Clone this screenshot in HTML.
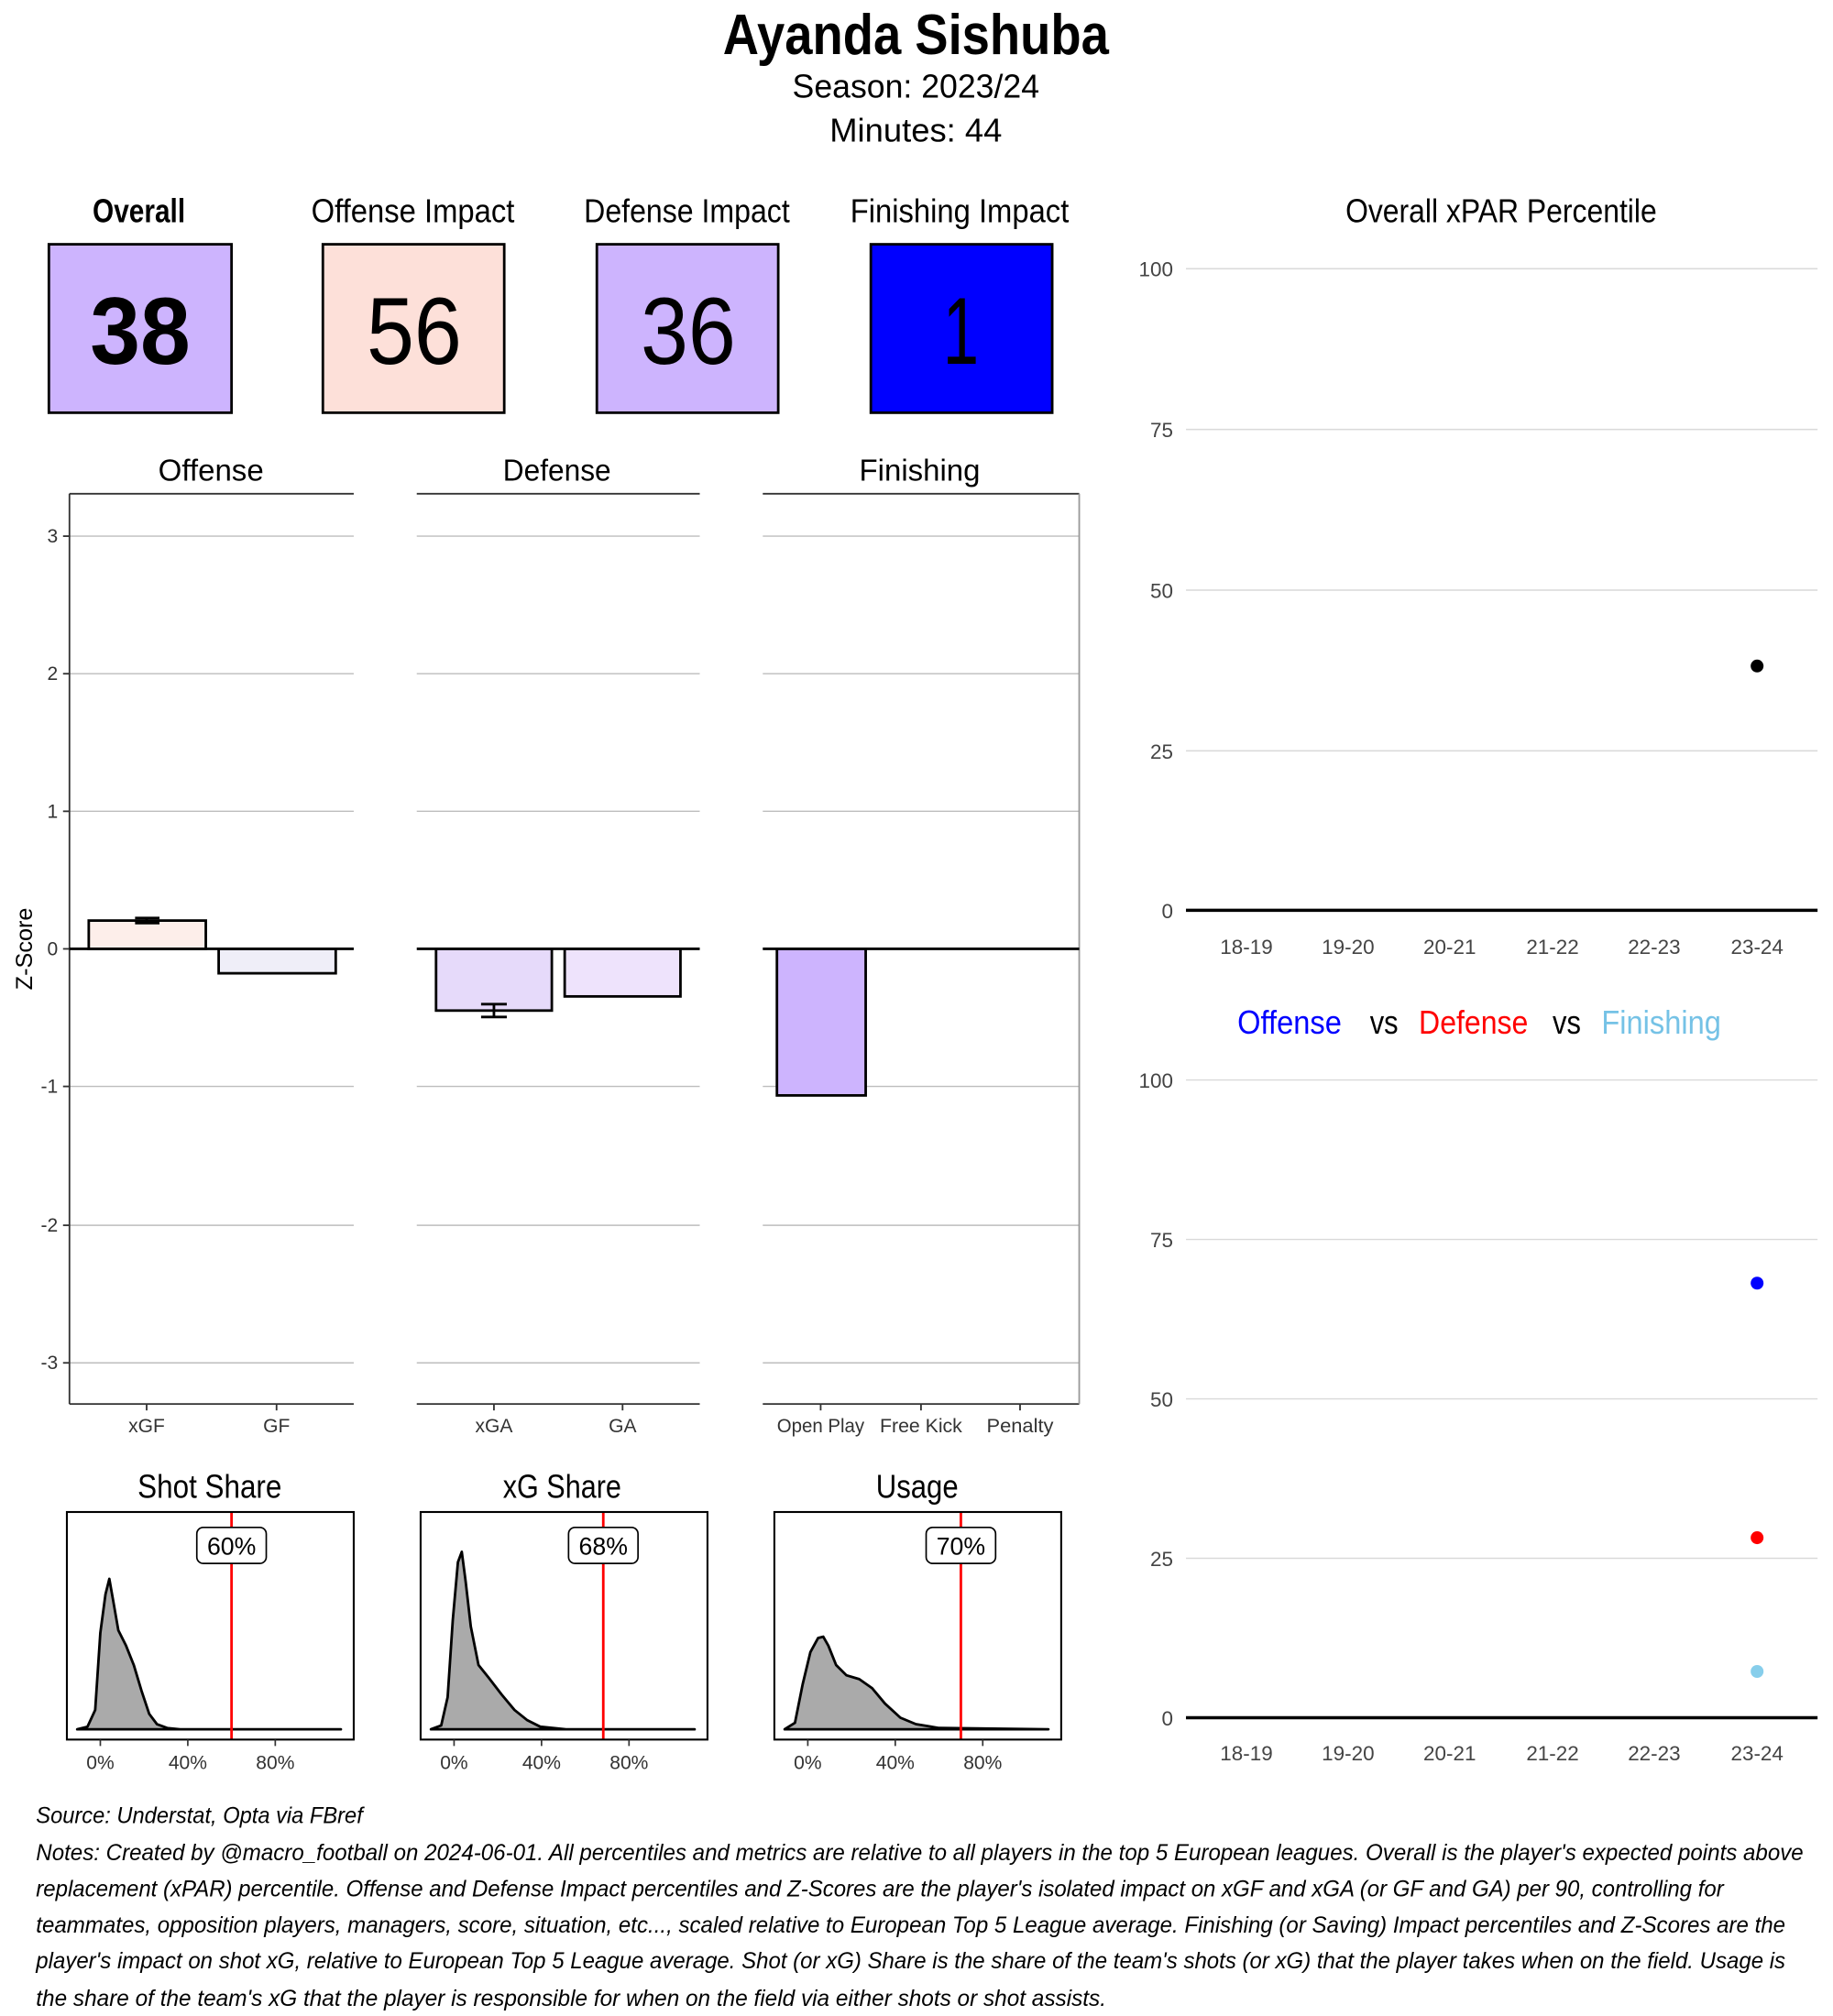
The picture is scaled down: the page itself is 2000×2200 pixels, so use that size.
<!DOCTYPE html>
<html><head><meta charset="utf-8"><style>html,body{margin:0;padding:0;background:#fff}svg{display:block}</style></head>
<body>
<svg width="2000" height="2200" viewBox="0 0 1425 1568" preserveAspectRatio="none" xmlns="http://www.w3.org/2000/svg" font-family="Liberation Sans, sans-serif">
<rect width="1425" height="1568" fill="#fff"/>
<text x="712" y="42" text-anchor="middle" font-size="44" font-weight="bold" textLength="300" lengthAdjust="spacingAndGlyphs">Ayanda Sishuba</text>
<text x="712" y="76" text-anchor="middle" font-size="26" textLength="192" lengthAdjust="spacingAndGlyphs">Season:  2023/24</text>
<text x="712" y="110" text-anchor="middle" font-size="26" textLength="134" lengthAdjust="spacingAndGlyphs">Minutes:  44</text>
<g font-size="26" text-anchor="middle">
<text x="108" y="173" font-weight="bold" textLength="72" lengthAdjust="spacingAndGlyphs">Overall</text>
<text x="321" y="173" textLength="158" lengthAdjust="spacingAndGlyphs">Offense Impact</text>
<text x="534" y="173" textLength="160" lengthAdjust="spacingAndGlyphs">Defense Impact</text>
<text x="746" y="173" textLength="170" lengthAdjust="spacingAndGlyphs">Finishing Impact</text>
</g>
<g stroke="#000" stroke-width="2">
<rect x="38" y="190" width="142" height="131" fill="#cdb4fe"/>
<rect x="251" y="190" width="141" height="131" fill="#fde0d9"/>
<rect x="464" y="190" width="141" height="131" fill="#cdb4fe"/>
<rect x="677" y="190" width="141" height="131" fill="#0000ff"/>
</g>
<g font-size="74" text-anchor="middle">
<text x="109" y="283" font-weight="bold" textLength="78" lengthAdjust="spacingAndGlyphs">38</text>
<text x="322" y="283" textLength="74" lengthAdjust="spacingAndGlyphs">56</text>
<text x="535" y="283" textLength="74" lengthAdjust="spacingAndGlyphs">36</text>
<text x="747" y="283" textLength="28" lengthAdjust="spacingAndGlyphs">1</text>
</g>
<text x="1167" y="173" text-anchor="middle" font-size="26" textLength="242" lengthAdjust="spacingAndGlyphs">Overall xPAR Percentile</text>
<g stroke="#d9d9d9" stroke-width="1">
<line x1="922" x2="1413" y1="209" y2="209"/><line x1="922" x2="1413" y1="334" y2="334"/>
<line x1="922" x2="1413" y1="459" y2="459"/><line x1="922" x2="1413" y1="584" y2="584"/>
<line x1="922" x2="1413" y1="840" y2="840"/><line x1="922" x2="1413" y1="964" y2="964"/>
<line x1="922" x2="1413" y1="1088" y2="1088"/><line x1="922" x2="1413" y1="1212" y2="1212"/>
</g>
<line x1="922" x2="1413" y1="708" y2="708" stroke="#000" stroke-width="2.5"/>
<line x1="922" x2="1413" y1="1336" y2="1336" stroke="#000" stroke-width="2.5"/>
<g font-size="16" fill="#444" text-anchor="end">
<text x="912" y="215">100</text><text x="912" y="340">75</text><text x="912" y="465">50</text><text x="912" y="590">25</text><text x="912" y="714">0</text>
<text x="912" y="846">100</text><text x="912" y="970">75</text><text x="912" y="1094">50</text><text x="912" y="1218">25</text><text x="912" y="1342">0</text>
</g>
<g font-size="16" fill="#444" text-anchor="middle">
<text x="969" y="742">18-19</text><text x="1048" y="742">19-20</text><text x="1127" y="742">20-21</text><text x="1207" y="742">21-22</text><text x="1286" y="742">22-23</text><text x="1366" y="742">23-24</text>
<text x="969" y="1369">18-19</text><text x="1048" y="1369">19-20</text><text x="1127" y="1369">20-21</text><text x="1207" y="1369">21-22</text><text x="1286" y="1369">22-23</text><text x="1366" y="1369">23-24</text>
</g>
<circle cx="1366" cy="518" r="5" fill="#000"/>
<g font-size="26">
<text x="962" y="804" fill="#0000ff" textLength="81" lengthAdjust="spacingAndGlyphs">Offense</text>
<text x="1065" y="804" fill="#000" textLength="22" lengthAdjust="spacingAndGlyphs">vs</text>
<text x="1103" y="804" fill="#ff0000" textLength="85" lengthAdjust="spacingAndGlyphs">Defense</text>
<text x="1207" y="804" fill="#000" textLength="22" lengthAdjust="spacingAndGlyphs">vs</text>
<text x="1245" y="804" fill="#75c2e6" textLength="93" lengthAdjust="spacingAndGlyphs">Finishing</text>
</g>
<circle cx="1366" cy="998" r="5" fill="#0000ff"/>
<circle cx="1366" cy="1196" r="5" fill="#ff0000"/>
<circle cx="1366" cy="1300" r="5" fill="#87ceeb"/>
<g font-size="24" text-anchor="middle">
<text x="164" y="374" textLength="82" lengthAdjust="spacingAndGlyphs">Offense</text>
<text x="433" y="374" textLength="84" lengthAdjust="spacingAndGlyphs">Defense</text>
<text x="715" y="374" textLength="94" lengthAdjust="spacingAndGlyphs">Finishing</text>
</g>
<g stroke="#bdbdbd" stroke-width="1">
<line x1="54" x2="275" y1="417" y2="417"/><line x1="54" x2="275" y1="524" y2="524"/><line x1="54" x2="275" y1="631" y2="631"/><line x1="54" x2="275" y1="845" y2="845"/><line x1="54" x2="275" y1="953" y2="953"/><line x1="54" x2="275" y1="1060" y2="1060"/>
<line x1="324" x2="544" y1="417" y2="417"/><line x1="324" x2="544" y1="524" y2="524"/><line x1="324" x2="544" y1="631" y2="631"/><line x1="324" x2="544" y1="845" y2="845"/><line x1="324" x2="544" y1="953" y2="953"/><line x1="324" x2="544" y1="1060" y2="1060"/>
<line x1="593" x2="839" y1="417" y2="417"/><line x1="593" x2="839" y1="524" y2="524"/><line x1="593" x2="839" y1="631" y2="631"/><line x1="593" x2="839" y1="845" y2="845"/><line x1="593" x2="839" y1="953" y2="953"/><line x1="593" x2="839" y1="1060" y2="1060"/>
</g>
<g stroke="#333" stroke-width="1.3" fill="none">
<line x1="54" x2="275" y1="384" y2="384"/><line x1="324" x2="544" y1="384" y2="384"/><line x1="593" x2="839" y1="384" y2="384"/>
<line x1="54" x2="275" y1="1092" y2="1092"/><line x1="324" x2="544" y1="1092" y2="1092"/><line x1="593" x2="839" y1="1092" y2="1092"/>
<line x1="54" x2="54" y1="384" y2="1092"/><line x1="839" x2="839" y1="384" y2="1092" stroke="#999"/>
<line x1="49" x2="54" y1="417" y2="417"/><line x1="49" x2="54" y1="524" y2="524"/><line x1="49" x2="54" y1="631" y2="631"/><line x1="49" x2="54" y1="738" y2="738"/><line x1="49" x2="54" y1="845" y2="845"/><line x1="49" x2="54" y1="953" y2="953"/><line x1="49" x2="54" y1="1060" y2="1060"/>
<line x1="114" x2="114" y1="1092" y2="1097"/><line x1="215" x2="215" y1="1092" y2="1097"/><line x1="384" x2="384" y1="1092" y2="1097"/><line x1="484" x2="484" y1="1092" y2="1097"/><line x1="638" x2="638" y1="1092" y2="1097"/><line x1="716" x2="716" y1="1092" y2="1097"/><line x1="793" x2="793" y1="1092" y2="1097"/>
</g>
<g font-size="15" fill="#333" text-anchor="end">
<text x="45" y="422">3</text><text x="45" y="529">2</text><text x="45" y="636">1</text><text x="45" y="743">0</text><text x="45" y="850">-1</text><text x="45" y="958">-2</text><text x="45" y="1065">-3</text>
</g>
<text transform="translate(25,738) rotate(-90)" font-size="18" text-anchor="middle">Z-Score</text>
<g stroke="#000" stroke-width="2">
<rect x="69" y="716" width="91" height="22" fill="#fdeeea"/>
<rect x="170" y="738" width="91" height="19" fill="#efeef8"/>
<rect x="339" y="738" width="90" height="48" fill="#e6dafa"/>
<rect x="439" y="738" width="90" height="37" fill="#eee3fc"/>
<rect x="604" y="738" width="69" height="114" fill="#cdb4fe"/>
<line x1="54" x2="275" y1="738" y2="738"/><line x1="324" x2="544" y1="738" y2="738"/><line x1="593" x2="839" y1="738" y2="738"/>
<path d="M105 714H124M105 718H124M114 714V718" fill="none"/>
<path d="M374 781H394M374 791H394M384 781V791" fill="none"/>
</g>
<g font-size="15" fill="#333" text-anchor="middle">
<text x="114" y="1114">xGF</text><text x="215" y="1114">GF</text><text x="384" y="1114">xGA</text><text x="484" y="1114">GA</text>
<text x="638" y="1114" textLength="68" lengthAdjust="spacingAndGlyphs">Open Play</text><text x="716" y="1114" textLength="64" lengthAdjust="spacingAndGlyphs">Free Kick</text><text x="793" y="1114" textLength="52" lengthAdjust="spacingAndGlyphs">Penalty</text>
</g>
<g font-size="26" text-anchor="middle">
<text x="163" y="1165" textLength="112" lengthAdjust="spacingAndGlyphs">Shot Share</text>
<text x="437" y="1165" textLength="92" lengthAdjust="spacingAndGlyphs">xG Share</text>
<text x="713" y="1165" textLength="64" lengthAdjust="spacingAndGlyphs">Usage</text>
</g>
<g fill="#aaa" stroke="#000" stroke-width="2" stroke-linejoin="round">
<path d="M60 1345L68 1343L74 1330L78 1270L82 1240L85 1228L88 1245L92 1268L98 1280L104 1295L110 1315L116 1333L122 1341L130 1344L140 1345L265 1345Z"/>
<path d="M335 1345L343 1342L348 1320L352 1260L356 1215L359 1207L362 1230L366 1265L372 1295L380 1305L390 1318L400 1330L410 1338L420 1343L440 1345L540 1345Z"/>
<path d="M610 1345L618 1340L624 1310L630 1285L636 1274L640 1273L644 1280L650 1295L658 1303L668 1306L678 1313L688 1325L700 1336L712 1341L730 1344L815 1345Z"/>
</g>
<g stroke="#ff0000" stroke-width="2">
<line x1="180" x2="180" y1="1176" y2="1353"/><line x1="469" x2="469" y1="1176" y2="1353"/><line x1="747" x2="747" y1="1176" y2="1353"/>
</g>
<g fill="none" stroke="#000" stroke-width="1.5">
<rect x="52" y="1176" width="223" height="177"/><rect x="327" y="1176" width="223" height="177"/><rect x="602" y="1176" width="223" height="177"/>
</g>
<g fill="#fff" stroke="#000" stroke-width="1.2">
<rect x="153" y="1188" width="54" height="28" rx="5"/><rect x="442" y="1188" width="54" height="28" rx="5"/><rect x="720" y="1188" width="54" height="28" rx="5"/>
</g>
<g font-size="19" text-anchor="middle">
<text x="180" y="1209">60%</text><text x="469" y="1209">68%</text><text x="747" y="1209">70%</text>
</g>
<g stroke="#333" stroke-width="1.2">
<line x1="78" x2="78" y1="1353" y2="1358"/><line x1="146" x2="146" y1="1353" y2="1358"/><line x1="214" x2="214" y1="1353" y2="1358"/>
<line x1="353" x2="353" y1="1353" y2="1358"/><line x1="421" x2="421" y1="1353" y2="1358"/><line x1="489" x2="489" y1="1353" y2="1358"/>
<line x1="628" x2="628" y1="1353" y2="1358"/><line x1="696" x2="696" y1="1353" y2="1358"/><line x1="764" x2="764" y1="1353" y2="1358"/>
</g>
<g font-size="15" fill="#333" text-anchor="middle">
<text x="78" y="1376">0%</text><text x="146" y="1376">40%</text><text x="214" y="1376">80%</text>
<text x="353" y="1376">0%</text><text x="421" y="1376">40%</text><text x="489" y="1376">80%</text>
<text x="628" y="1376">0%</text><text x="696" y="1376">40%</text><text x="764" y="1376">80%</text>
</g>
<g font-size="18" font-style="italic">
<text x="28" y="1418" textLength="254" lengthAdjust="spacingAndGlyphs">Source: Understat, Opta via FBref</text>
<text x="28" y="1447" textLength="1374" lengthAdjust="spacingAndGlyphs">Notes: Created by @macro_football on 2024-06-01. All percentiles and metrics are relative to all players in the top 5 European leagues. Overall is the player's expected points above</text>
<text x="28" y="1475" textLength="1312" lengthAdjust="spacingAndGlyphs">replacement (xPAR) percentile. Offense and Defense Impact percentiles and Z-Scores are the player's isolated impact on xGF and xGA (or GF and GA) per 90, controlling for</text>
<text x="28" y="1503" textLength="1360" lengthAdjust="spacingAndGlyphs">teammates, opposition players, managers, score, situation, etc..., scaled relative to European Top 5 League average. Finishing (or Saving) Impact percentiles and Z-Scores are the</text>
<text x="28" y="1531" textLength="1360" lengthAdjust="spacingAndGlyphs">player's impact on shot xG, relative to European Top 5 League average. Shot (or xG) Share is the share of the team's shots (or xG) that the player takes when on the field. Usage is</text>
<text x="28" y="1560" textLength="832" lengthAdjust="spacingAndGlyphs">the share of the team's xG that the player is responsible for when on the field via either shots or shot assists.</text>
</g>
</svg>
</body></html>
